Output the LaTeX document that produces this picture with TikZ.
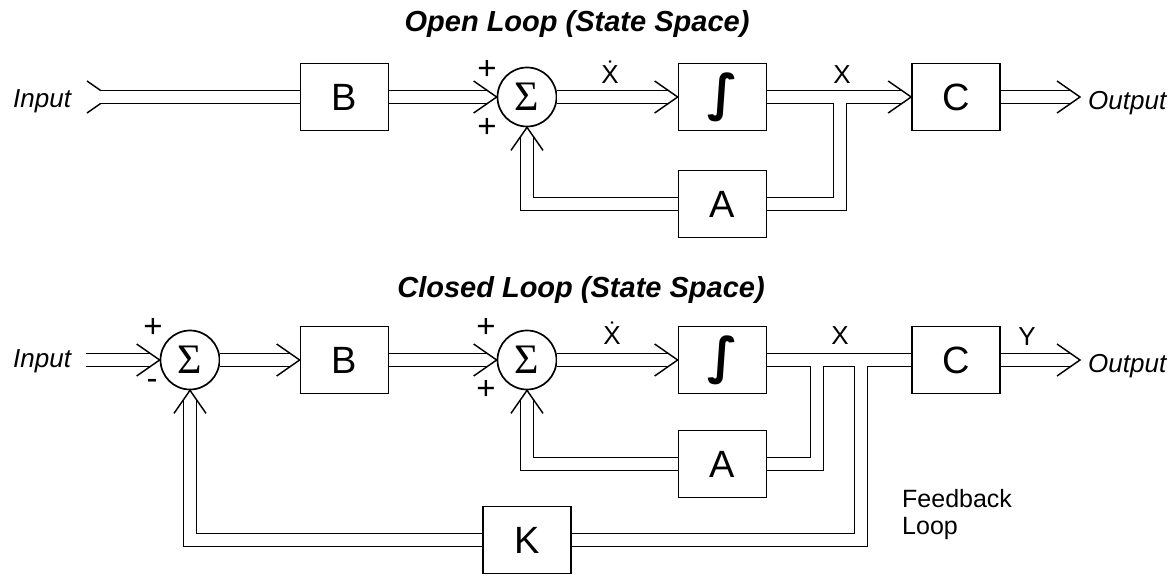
\documentclass[tikz,border=0pt]{standalone}
\usepackage{fontspec}
\setmainfont{Liberation Sans}
\newfontfamily\serifgr{Liberation Serif}
\newfontfamily\symf{DejaVu Sans}
\usetikzlibrary{calc}
\newcommand\fsz[1]{\fontsize{#1}{#1}\selectfont}
\newcommand\intg{{\symf\bfseries\fsz{50}∫}}
\begin{document}
\begin{tikzpicture}[x=1pt,y=-1pt,
  blk/.style={draw, line width=1.7pt, minimum width=88pt, minimum height=67pt, inner sep=0pt, font=\fsz{38}},
  sumc/.style={draw, circle, line width=1.7pt, minimum size=59pt, inner sep=0pt, font=\serifgr\fsz{42}},
  dl/.style={draw, line width=1.45pt, double, double distance=11.6pt},
  arr/.style={shorten >=9.8pt},
  lbl/.style={inner sep=0pt, font=\fsz{26}},
  ttl/.style={inner sep=0pt, font=\bfseries\itshape\fsz{29}},
  io/.style={inner sep=0pt, font=\itshape\fsz{26}},
  sgn/.style={inner sep=0pt, font=\fsz{33}},
  chev/.pic={\draw[line width=1.45pt, line join=miter] (-23,16) -- (0,0) -- (-23,-16);}
]
\useasboundingbox (0,0) rectangle (1175,578);

% ---------- Open loop ----------
\node[ttl, anchor=base] (t1) at (577,32) {Open Loop (State Space)};
\node[io, anchor=base west] (in1) at (13,107) {Input};
\coordinate (i1) at (110,97);
\node[blk] (B1) at (344.5,97) {B};
\node[sumc] (S1) at (527,97) {Σ};
\node[blk] (I1) at (722.5,97) {\intg};
\node[blk] (C1) at (956,97) {C};
\node[blk] (A1) at (722.5,204) {A};
\coordinate (o1) at (1080,97);
\node[io, anchor=base west] (out1) at (1088,109) {Output};
\coordinate (tap1) at (840,97);
\node[sgn] (p1a) at (487,70) {+};
\node[sgn] (p1b) at (487,128) {+};
\node[lbl, anchor=base] (xd1) at (610,84) {Ẋ};
\node[lbl, anchor=base] (x1) at (842,84) {X};

\pic at (i1) {chev};
\draw[dl, shorten <=-9.8pt] (i1) -- (B1.west);
\draw[dl, arr] (B1.east) -- (S1.west);
\pic at (S1.west) {chev};
\draw[dl, arr] (S1.east) -- (I1.west);
\pic at (I1.west) {chev};
\draw[dl, arr] (I1.east) -- (C1.west);
\pic at (C1.west) {chev};
\draw[dl] ($(tap1)+(0,6.1)$) |- (A1.east);
\draw[dl, arr] (A1.west) -| (S1.south);
\pic[rotate=90] at (S1.south) {chev};
\draw[dl, arr] (C1.east) -- (o1);
\pic at (o1) {chev};

% ---------- Closed loop ----------
\node[ttl, anchor=base] (t2) at (581,297) {Closed Loop (State Space)};
\node[io, anchor=base west] (in2) at (13,367) {Input};
\coordinate (i2) at (86,360);
\node[sumc] (S0) at (190,360) {Σ};
\node[blk] (B2) at (344.5,360) {B};
\node[sumc] (S2) at (527,360) {Σ};
\node[blk] (I2) at (722.5,360) {\intg};
\node[blk] (C2) at (956,360) {C};
\node[blk] (A2) at (722.5,464) {A};
\node[blk] (K2) at (527,540) {K};
\coordinate (o2) at (1080,360);
\node[io, anchor=base west] (out2) at (1088,372) {Output};
\coordinate (tapa) at (817,360);
\coordinate (tapk) at (861,360);
\node[sgn] (p0a) at (153,328) {+};
\node[sgn] (m0b) at (152,384) {-};
\node[sgn] (p2a) at (486,328) {+};
\node[sgn] (p2b) at (486,390) {+};
\node[lbl, anchor=base] (xd2) at (612,344) {Ẋ};
\node[lbl, anchor=base] (x2) at (840,344) {X};
\node[lbl, anchor=base] (y2) at (1027,345) {Y};
\node[anchor=north west, align=left, inner sep=0pt, font=\fontsize{25}{27}\selectfont] (fb) at (902,489) {Feedback\\Loop};

\draw[dl, arr] (i2) -- (S0.west);
\pic at (S0.west) {chev};
\draw[dl, arr] (S0.east) -- (B2.west);
\pic at (B2.west) {chev};
\draw[dl, arr] (B2.east) -- (S2.west);
\pic at (S2.west) {chev};
\draw[dl, arr] (S2.east) -- (I2.west);
\pic at (I2.west) {chev};
\draw[dl] (I2.east) -- (C2.west);
\draw[dl] ($(tapa)+(0,6.1)$) |- (A2.east);
\draw[dl] ($(tapk)+(0,6.1)$) |- (K2.east);
\draw[dl, arr] (A2.west) -| (S2.south);
\pic[rotate=90] at (S2.south) {chev};
\draw[dl, arr] (K2.west) -| (S0.south);
\pic[rotate=90] at (S0.south) {chev};
\draw[dl, arr] (C2.east) -- (o2);
\pic at (o2) {chev};
\end{tikzpicture}
\end{document}
